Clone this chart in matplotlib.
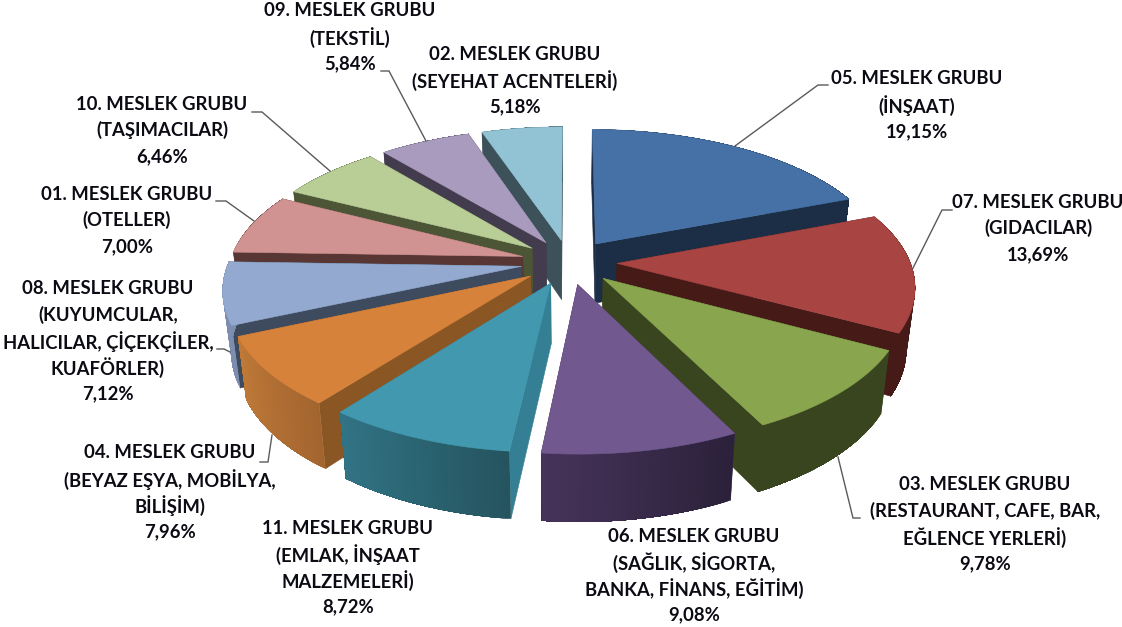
import numpy as np
import matplotlib
matplotlib.use("Agg")
import matplotlib.pyplot as plt
from matplotlib.patches import Polygon

plt.rcParams["font.family"] = ["Lato", "DejaVu Sans"]

# clockwise from 12 o'clock
groups = ["05", "07", "03", "06", "11", "04", "08", "01", "10", "09", "02"]
values = [19.15, 13.69, 9.78, 9.08, 8.72, 7.96, 7.12, 7.00, 6.46, 5.84, 5.18]
names = [
    "(İNŞAAT)",
    "(GIDACILAR)",
    "(RESTAURANT, CAFE, BAR,\nEĞLENCE YERLERİ)",
    "(SAĞLIK, SİGORTA,\nBANKA, FİNANS, EĞİTİM)",
    "(EMLAK, İNŞAAT\nMALZEMELERİ)",
    "(BEYAZ EŞYA, MOBİLYA,\nBİLİŞİM)",
    "(KUYUMCULAR,\nHALICILAR, ÇİÇEKÇİLER,\nKUAFÖRLER)",
    "(OTELLER)",
    "(TAŞIMACILAR)",
    "(TEKSTİL)",
    "(SEYEHAT ACENTELERİ)",
]

top_colors = ["#4571a7", "#a84441", "#89a54e", "#71588f", "#4198af", "#d7823b",
              "#93a9cf", "#d19392", "#b9cd96", "#a99bbd", "#91c3d5"]
cut_colors = ["#1c2e45", "#451a17", "#39451e", "#3c2c4c", "#347f93", "#8a5724",
              "#3e4a5e", "#573634", "#4c5535", "#433c4e", "#3c5159"]
# outer wall colour at the start and end of each slice (clockwise)
wall_colors = [("#1c2e45", "#1c2e45"), ("#451a17", "#451a17"), ("#39451e", "#39451e"),
               ("#2b213a", "#46335a"), ("#25545f", "#317485"), ("#a3652f", "#c07a38"),
               ("#7c8db0", "#7c8db0"), ("#573634", "#573634"), ("#4c5535", "#4c5535"),
               ("#433c4e", "#433c4e"), ("#3c5159", "#3c5159")]

# label centre x, first line y, per group
label_pos = {"05": (917, 79), "07": (1038, 202), "03": (985, 485), "06": (694, 536),
             "11": (348, 528), "04": (170, 453), "08": (108, 289), "01": (127, 194),
             "10": (162, 104), "09": (350, 11), "02": (515, 54)}
leaders = {
    "05": [(828, 85), (818, 85), (735, 146)],
    "07": [(952, 210), (942, 210), (913, 268)],
    "03": [(860, 518), (853, 518), (838, 457)],
    "04": [(260, 462), (268, 462), (272, 435)],
    "08": [(217, 349), (224, 349), (230, 352)],
    "01": [(216, 201), (226, 201), (254, 221)],
    "10": [(252, 112), (262, 112), (330, 171)],
    "09": [(381, 71), (389, 71), (426, 141)],
}

CX, CY = 569, 262
R = 293
RY = 136.6
EXPLODE = 0.164
PERSP = 0.15
DEPTH = 60
BOTTOM_SCALE = 0.975


def project(u, v, bottom=False):
    f = 1 / (1 - PERSP * v)
    x = u * R * f
    y = v * RY * f
    if bottom:
        x = x * BOTTOM_SCALE
        y = y * BOTTOM_SCALE + DEPTH * f
    return CX + x, CY + y


def slice_pts(theta, mid, rho, bottom=False):
    u = EXPLODE * np.sin(mid) + rho * np.sin(theta)
    v = -EXPLODE * np.cos(mid) - rho * np.cos(theta)
    return np.column_stack(project(u, v, bottom))


def mix(c1, c2, t):
    a = np.array(matplotlib.colors.to_rgb(c1))
    b = np.array(matplotlib.colors.to_rgb(c2))
    return tuple(a + (b - a) * t)


def draw_slice(ax, a0, a1, top, cut, wall):
    mid = (a0 + a1) / 2
    theta = np.linspace(a0, a1, 80)
    apex_t = slice_pts(np.array([0.0]), mid, 0.0)
    apex_b = slice_pts(np.array([0.0]), mid, 0.0, bottom=True)
    rim_t = slice_pts(theta, mid, 1.0)
    rim_b = slice_pts(theta, mid, 1.0, bottom=True)

    # the two cut faces first
    for i in (0, -1):
        quad = [apex_t[0], rim_t[i], rim_b[i], apex_b[0]]
        ax.add_patch(Polygon(quad, fc=cut, ec=cut, lw=0.4))

    # outer wall: each piece runs on to the end of the slice, the next one
    # paints over it, so no seams show between the gradient steps
    n = len(theta)
    for i in range(n - 1):
        c = mix(wall[0], wall[1], i / (n - 2))
        quad = np.vstack([rim_t[i:], rim_b[i:][::-1]])
        ax.add_patch(Polygon(quad, fc=c, ec="none", lw=0))

    face = np.vstack([apex_t, rim_t])
    ax.add_patch(Polygon(face, fc=top, ec=top, lw=0.4))


def main():
    fig = plt.figure(figsize=(11.22, 6.27), dpi=100)
    ax = fig.add_axes([0, 0, 1, 1])
    ax.set_xlim(0, 1122)
    ax.set_ylim(627, 0)
    ax.axis("off")

    vals = np.array(values)
    edges = np.concatenate([[0], np.cumsum(vals)]) / vals.sum() * 2 * np.pi
    mids = (edges[:-1] + edges[1:]) / 2

    # paint from the back of the pie to the front
    for i in np.argsort(-np.cos(mids)):
        draw_slice(ax, edges[i], edges[i + 1], top_colors[i], cut_colors[i], wall_colors[i])

    for g, pts in leaders.items():
        xs, ys = zip(*pts)
        ax.plot(xs, ys, color="#5a5a5a", lw=1.0, solid_joinstyle="miter")

    line_h = 26.3
    for g, name, val in zip(groups, names, values):
        x, y = label_pos[g]
        pct = f"{val:.2f}%".replace(".", ",")
        lines = [f"{g}. MESLEK GRUBU"] + name.split("\n") + [pct]
        for n, line in enumerate(lines):
            ax.text(x, y + n * line_h, line, ha="center", va="center",
                    fontsize=13.3, fontweight="bold", color="#0b0b14")

    fig.savefig("out.png", dpi=100)


if __name__ == "__main__":
    main()
